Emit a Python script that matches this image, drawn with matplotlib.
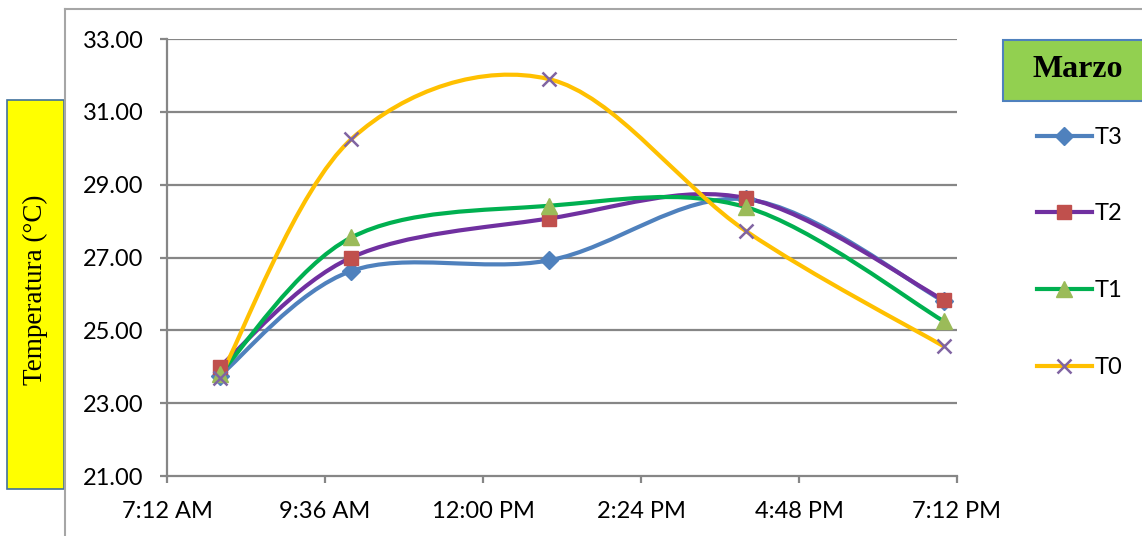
import numpy as np
import matplotlib
matplotlib.use("Agg")
import matplotlib.pyplot as plt
from matplotlib.path import Path
from matplotlib.patches import PathPatch, Rectangle
from matplotlib.lines import Line2D

# horas de medicion (decimal) y temperaturas por tratamiento
horas = [8, 10, 13, 16, 19]
T3 = [23.75, 26.63, 26.92, 28.60, 25.80]
T2 = [24.00, 27.00, 28.07, 28.63, 25.83]
T1 = [23.80, 27.55, 28.42, 28.38, 25.25]
T0 = [23.70, 30.25, 31.90, 27.72, 24.56]

xticks = [7.2, 9.6, 12.0, 14.4, 16.8, 19.2]
xlabels = ["7:12 AM", "9:36 AM", "12:00 PM", "2:24 PM", "4:48 PM", "7:12 PM"]
yticks = [21, 23, 25, 27, 29, 31, 33]

series = [
    ("T3", T3, "#4F81BD", "D", "#4F81BD", 9),
    ("T2", T2, "#7030A0", "s", "#C0504D", 10),
    ("T1", T1, "#00B050", "^", "#9BBB59", 11),
    ("T0", T0, "#FFC000", "x", "#8064A2", 10),
]

plt.rcParams['font.family'] = ['Lato', 'DejaVu Sans']


def smooth_path(x, y):
    # curva suavizada tipo Excel (Bezier con puntos de control a 1/6)
    p = np.column_stack([x, y]).astype(float)
    ext = np.vstack([p[0], p, p[-1]])
    verts = [p[0]]
    codes = [Path.MOVETO]
    for i in range(len(p) - 1):
        a, b, c, d = ext[i], ext[i + 1], ext[i + 2], ext[i + 3]
        verts += [b + (c - a) / 6, c - (d - b) / 6, c]
        codes += [Path.CURVE4] * 3
    return Path(verts, codes)


fig = plt.figure(figsize=(11.42, 5.36), dpi=100)
ax = fig.add_axes([0.1462, 0.1119, 0.6918, 0.8153])

grid_c = "#868686"
for t in yticks[1:]:
    ax.axhline(t, color=grid_c, lw=1.6, zorder=1)

for name, vals, lc, mk, mc, ms in series:
    ax.add_patch(PathPatch(smooth_path(horas, vals), fill=False,
                           edgecolor=lc, lw=3, zorder=3, capstyle="round"))
    if mk == "x":
        ax.plot(horas, vals, ls="none", marker=mk, ms=ms, mec=mc, mew=1.8, zorder=4)
    else:
        ax.plot(horas, vals, ls="none", marker=mk, ms=ms, mfc=mc, mec=mc, zorder=4)

ax.set_xlim(7.2, 19.2)
ax.set_ylim(21, 33)
ax.set_xticks(xticks)
ax.set_xticklabels(xlabels)
ax.set_yticks(yticks)
ax.set_yticklabels([f"{v:.2f}" for v in yticks])
ax.tick_params(axis="both", labelsize=17, color=grid_c, width=1.6, length=5,
               labelcolor="black")
ax.tick_params(axis="x", pad=13)
ax.tick_params(axis="y", pad=12)
for side in ["top", "right"]:
    ax.spines[side].set_visible(False)
for side in ["left", "bottom"]:
    ax.spines[side].set_color(grid_c)
    ax.spines[side].set_linewidth(1.6)

# leyenda
handles = []
for name, vals, lc, mk, mc, ms in series:
    if mk == "x":
        h = Line2D([], [], color=lc, lw=3, marker=mk, ms=ms, mec=mc, mew=1.8)
    else:
        h = Line2D([], [], color=lc, lw=3, marker=mk, ms=ms, mfc=mc, mec=mc)
    handles.append(h)
fig.legend(handles, [s[0] for s in series], loc="upper left",
           bbox_to_anchor=(0.908, 0.7635), frameon=False, fontsize=17,
           handlelength=2.33, handletextpad=0.1, labelspacing=2.36,
           borderpad=0, borderaxespad=0)

# marco del area del grafico
fig.add_artist(Line2D([0.0569, 0.0569], [0, 0.9832], color="#A6A6A6", lw=1.5))
fig.add_artist(Line2D([0.0569, 1.0], [0.9832, 0.9832], color="#A6A6A6", lw=1.5))

# cuadro del eje vertical
fig.add_artist(Rectangle((0.0061, 0.0877), 0.0499, 0.7257, facecolor="#FFFF00",
                         edgecolor="#41719C", lw=1.2))
fig.text(0.031, 0.46, "Temperatura (°C)", rotation=90, ha="center", va="center",
         fontsize=19.5, family="Liberation Serif")

# titulo del mes
fig.add_artist(Rectangle((0.8783, 0.8116), 0.14, 0.1138, facecolor="#92D050",
                         edgecolor="#4F81BD", lw=1.5))
fig.text(0.944, 0.870, "Marzo", ha="center", va="center", fontsize=23,
         fontweight="bold", family="Liberation Serif")

fig.savefig("out.png", dpi=100)
